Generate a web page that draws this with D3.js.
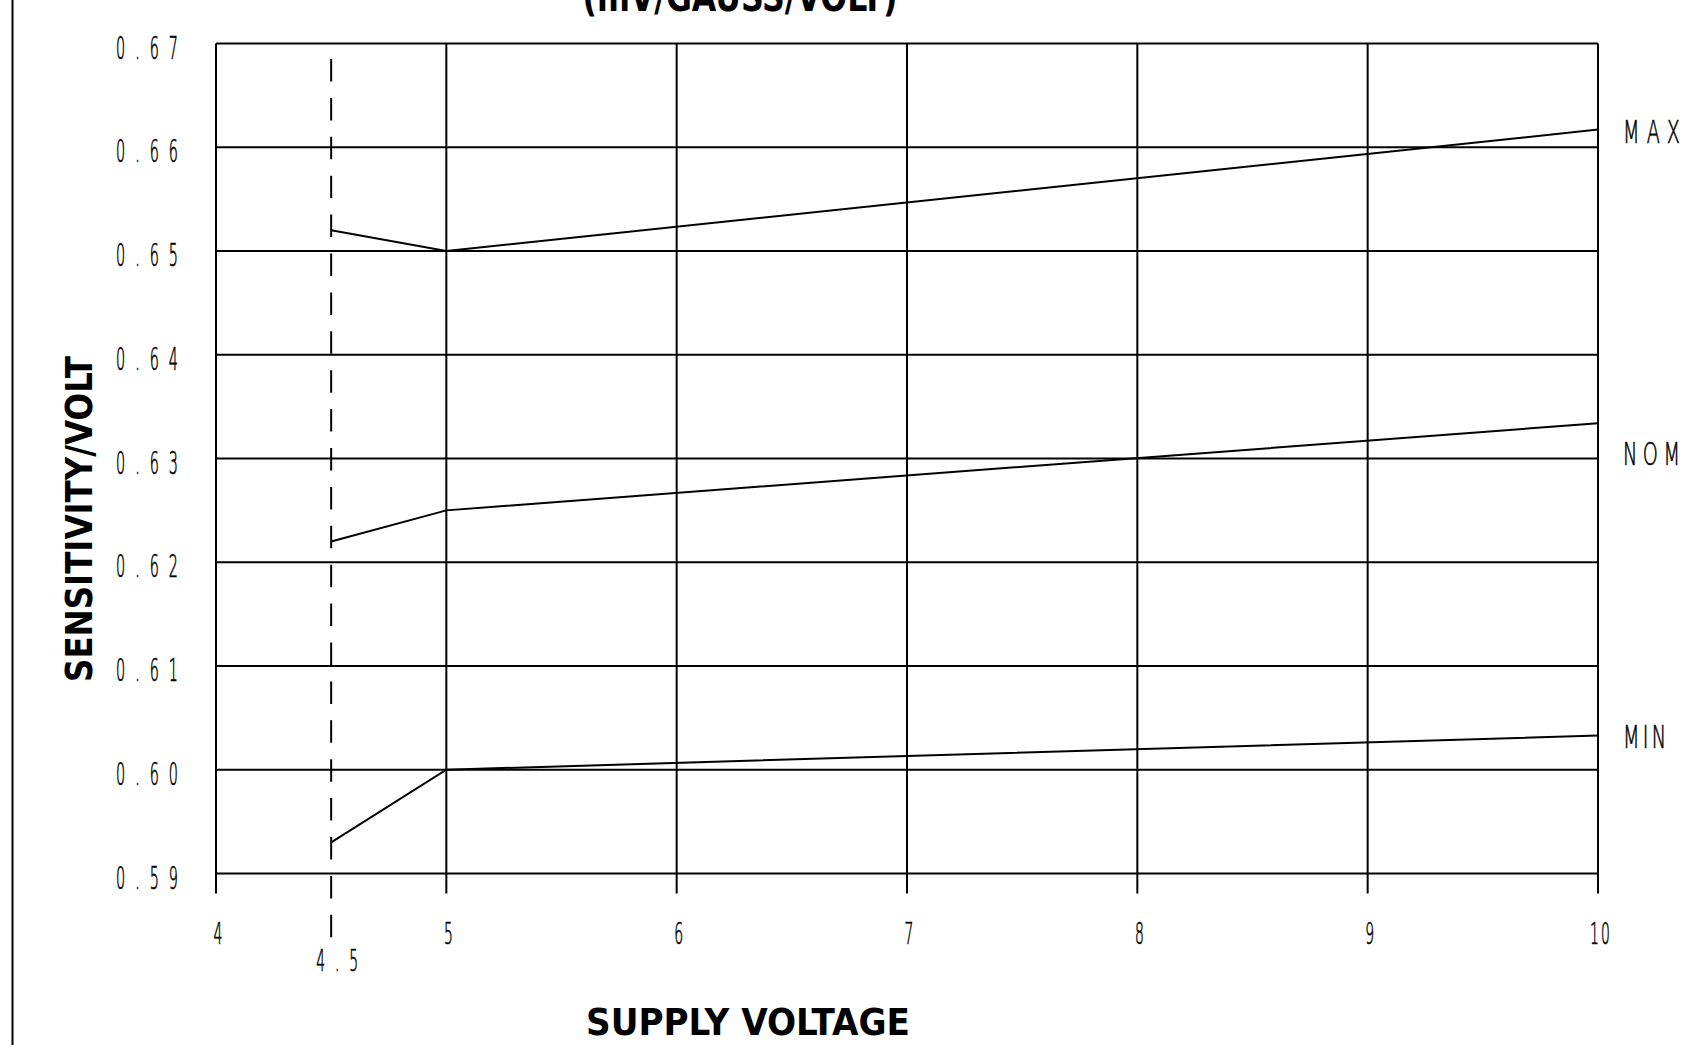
<!DOCTYPE html>
<html>
<head>
<meta charset="utf-8">
<script src="https://cdn.jsdelivr.net/npm/d3@7"></script>
<style>
  html, body { margin: 0; padding: 0; background: #fff; }
  svg { display: block; }
</style>
</head>
<body>
<svg id="chart" width="1692" height="1045"></svg>
<script>
// ---- data ----
const seriesNames = ["MAX", "NOM", "MIN"];
const voltages = [4.5, 5, 10];
const maxValues = [0.652, 0.650, 0.6617];
const nomValues = [0.622, 0.625, 0.6334];
const minValues = [0.593, 0.600, 0.6033];
const xTicks = [4, 5, 6, 7, 8, 9, 10];
const xTickLabels = ["4", "5", "6", "7", "8", "9", "10"];
const yTicks = [0.59, 0.60, 0.61, 0.62, 0.63, 0.64, 0.65, 0.66, 0.67];
const yTickLabels = ["0.59", "0.60", "0.61", "0.62", "0.63", "0.64", "0.65", "0.66", "0.67"];
const refVoltage = 4.5;
const refLabel = "4.5";
const titleText = "(mV/GAUSS/VOLT)";
const xTitle = "SUPPLY VOLTAGE";
const yTitle = "SENSITIVITY/VOLT";

const svg = d3.select("#chart");
const W = 1692, H = 1045;
svg.append("rect").attr("width", W).attr("height", H).attr("fill", "#fff");

const x = d3.scaleLinear().domain([4, 10]).range([216, 1598]);
const y = d3.scaleLinear().domain([0.59, 0.67]).range([873.5, 43.5]);

const thinFont = "'DejaVu Sans', sans-serif";
const boldFont = "'DejaVu Sans Condensed', 'DejaVu Sans', sans-serif";

// left frame line
svg.append("line").attr("x1", 12.5).attr("x2", 12.5).attr("y1", 0).attr("y2", H)
  .attr("stroke", "#000").attr("stroke-width", 2);

// thin condensed text helper
function thinText(str, cx, baseline, sx, fontSize, width, anchor) {
  const t = svg.append("text")
    .attr("transform", `translate(${cx},${baseline}) scale(${sx},1)`)
    .attr("font-family", thinFont)
    .attr("font-weight", 200)
    .attr("font-size", fontSize)
    .attr("text-anchor", anchor || "middle")
    .attr("fill", "#000")
    .attr("stroke", "#000")
    .attr("stroke-width", 0.55)
    .attr("vector-effect", "non-scaling-stroke")
    .style("vector-effect", "non-scaling-stroke")
    .text(str);
  if (width && str.length > 1) t.attr("textLength", width / sx).attr("lengthAdjust", "spacing");
  return t;
}

// horizontal grid lines
svg.append("g").selectAll("line").data(yTicks).join("line")
  .attr("x1", x(4)).attr("x2", x(10))
  .attr("y1", d => y(d)).attr("y2", d => y(d))
  .attr("stroke", "#000").attr("stroke-width", 2);

// vertical grid lines (extend below plot as ticks)
svg.append("g").selectAll("line").data(xTicks).join("line")
  .attr("x1", d => x(d)).attr("x2", d => x(d))
  .attr("y1", y(0.67)).attr("y2", y(0.59) + 20)
  .attr("stroke", "#000").attr("stroke-width", 2);

// dashed reference line at 4.5
svg.append("line")
  .attr("x1", x(refVoltage)).attr("x2", x(refVoltage))
  .attr("y1", y(0.67) + 15.5).attr("y2", y(0.59) + 64)
  .attr("stroke", "#000").attr("stroke-width", 2)
  .attr("stroke-dasharray", "22.5,16.4");

// y tick labels
yTicks.forEach((v, i) => {
  thinText(yTickLabels[i], 147, y(v) + 15, 0.45, 32, 62);
});

// x tick labels
xTicks.forEach((v, i) => {
  const lbl = xTickLabels[i];
  thinText(lbl, x(v) + 2, 944, 0.45, 31, lbl.length > 1 ? 20 : null);
});
thinText(refLabel, x(refVoltage) + 6, 971, 0.45, 31, 42);

// series lines
const seriesValues = [maxValues, nomValues, minValues];
const line = d3.line().x(d => x(d[0])).y(d => y(d[1]));
seriesValues.forEach(vals => {
  svg.append("path")
    .datum(voltages.map((v, i) => [v, vals[i]]))
    .attr("d", line)
    .attr("fill", "none").attr("stroke", "#000").attr("stroke-width", 2);
});

// series labels at right
const labelOffsets = [1.5, 30, 0];
seriesValues.forEach((vals, i) => {
  const endY = y(vals[vals.length - 1]) + labelOffsets[i];
  const name = seriesNames[i];
  const w = name === "MIN" ? 43 : 57;
  thinText(name, 1623, endY + 12, 0.6, 32, w, "start");
});

// y axis title
svg.append("text")
  .attr("transform", `translate(92,519) rotate(-90)`)
  .attr("font-family", boldFont).attr("font-weight", "bold")
  .attr("font-size", 38).attr("text-anchor", "middle")
  .attr("textLength", 326).attr("lengthAdjust", "spacingAndGlyphs")
  .attr("fill", "#000")
  .text(yTitle);

// x axis title
svg.append("text")
  .attr("x", 748).attr("y", 1035)
  .attr("font-family", boldFont).attr("font-weight", "bold")
  .attr("font-size", 38).attr("text-anchor", "middle")
  .attr("textLength", 324).attr("lengthAdjust", "spacingAndGlyphs")
  .attr("fill", "#000")
  .text(xTitle);

// top title (clipped by page top, as in the reference)
svg.append("text")
  .attr("x", 740).attr("y", 11)
  .attr("font-family", boldFont).attr("font-weight", "bold")
  .attr("font-size", 40).attr("text-anchor", "middle")
  .attr("textLength", 315).attr("lengthAdjust", "spacingAndGlyphs")
  .attr("fill", "#000")
  .text(titleText);
</script>
</body>
</html>
